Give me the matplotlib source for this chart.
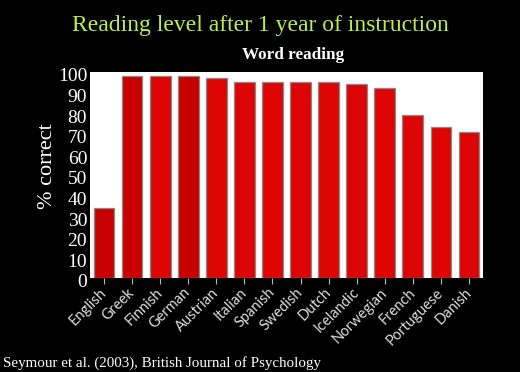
import matplotlib
matplotlib.use("Agg")
from matplotlib import pyplot as plt
from matplotlib.transforms import ScaledTranslation

languages = ["English", "Greek", "Finnish", "German", "Austrian", "Italian", "Spanish",
             "Swedish", "Dutch", "Icelandic", "Norwegian", "French", "Portuguese", "Danish"]
word_reading = [34, 98, 98, 98, 97, 95, 95, 95, 95, 94, 92, 79, 73, 71]
bar_colors = ["#c80000", "#c80000", "#dd0404", "#c80000", "#dd0404", "#dd0404", "#dd0404",
              "#dd0404", "#dd0404", "#dd0404", "#dd0404", "#dd0404", "#dd0404", "#dd0404"]

fig = plt.figure(figsize=(5.2, 3.72), dpi=100, facecolor="black")
ax = fig.add_axes([0.173, 0.253, 0.756, 0.554])
ax.set_facecolor("white")

x = range(len(languages))
ax.bar(x, word_reading, width=0.74, color=bar_colors, edgecolor="#8a8a8a", linewidth=0.9, zorder=3)

ax.set_xlim(-0.5, len(languages) - 0.5)
ax.set_ylim(0, 100)
ax.set_yticks(range(0, 101, 10))
ax.tick_params(axis="y", colors="white", labelsize=14, length=0, pad=2)
# labels sit a bit below their ticks in the original slide
shift = ScaledTranslation(0, -3 / 100, fig.dpi_scale_trans)
for lab in ax.get_yticklabels():
    lab.set_family("Liberation Serif")
    lab.set_transform(lab.get_transform() + shift)
ax.set_xticks(list(x))
ax.set_xticklabels(languages, rotation=45, ha="right", va="center", rotation_mode="anchor",
                   family="Lato", fontsize=10.5, color="#dddddd")
ax.tick_params(axis="x", colors="#bbbbbb", length=4, width=0.8, pad=5)
for lab in ax.get_xticklabels():
    lab.set_color("#dddddd")
for s in ax.spines.values():
    s.set_visible(False)

fig.text(0.092, 0.553, "% correct", rotation=90, ha="center", va="center",
         family="Liberation Serif", fontsize=16, color="white")

fig.text(0.5, 0.932, "Reading level after 1 year of instruction", ha="center", va="center",
         family="Liberation Serif", fontsize=17, color="#b8f050")
fig.text(0.563, 0.853, "Word reading", ha="center", va="center",
         family="Liberation Serif", fontweight="bold", fontsize=12.3, color="white")
fig.text(0.006, 0.024, "Seymour et al. (2003), British Journal of Psychology", ha="left", va="center",
         family="Liberation Serif", fontsize=10.8, color="white")

fig.savefig("out.png", dpi=100, facecolor="black")
